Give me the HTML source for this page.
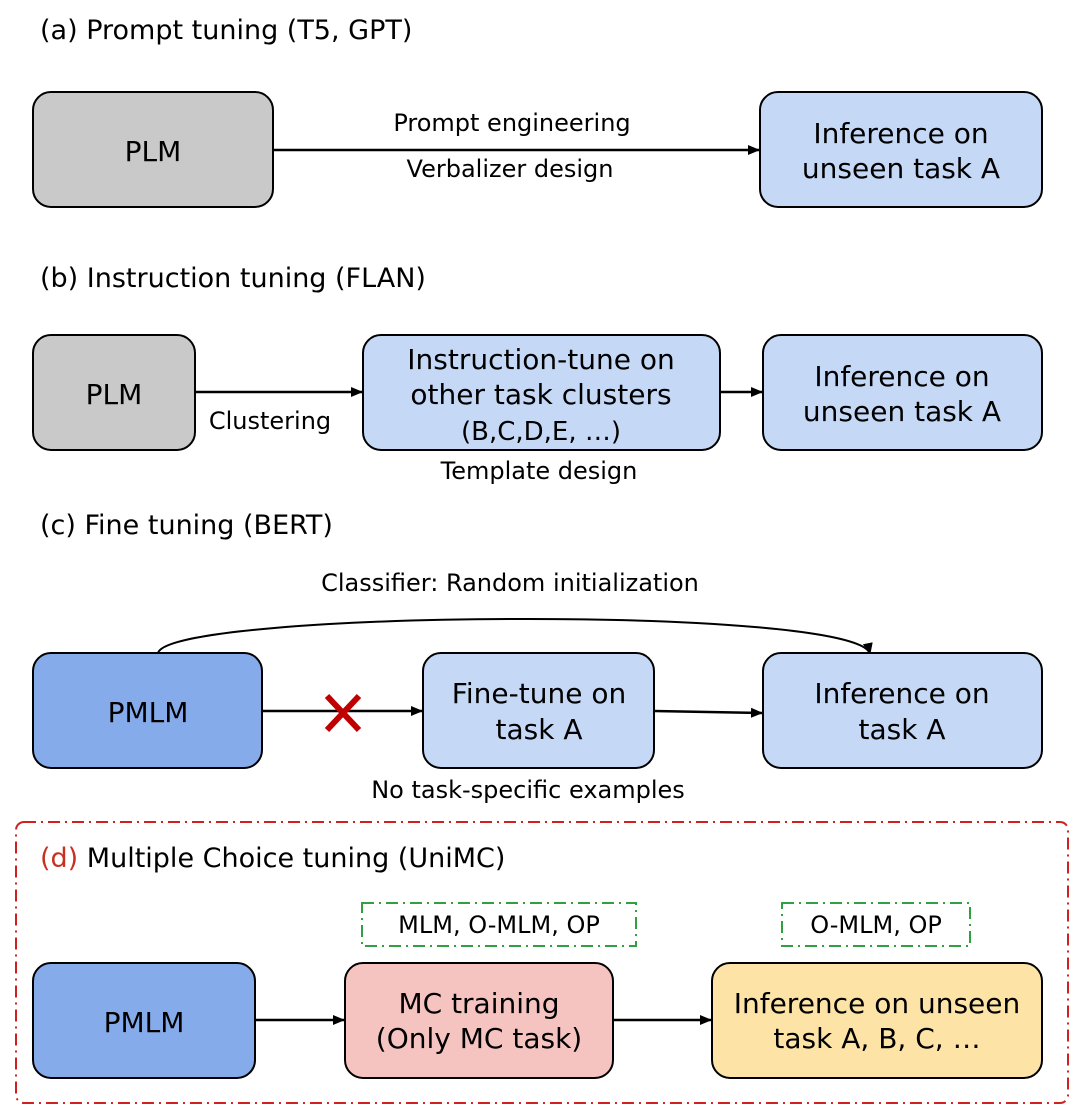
<!DOCTYPE html>
<html><head><meta charset="utf-8"><style>
html,body{margin:0;padding:0;background:#fff;}
svg{display:block;}
text{font-family:"DejaVu Sans","Noto Sans CJK SC",sans-serif;fill:#000;}
.t{font-size:27px;}
.b{font-size:28px;text-anchor:middle;}
.l{font-size:24px;text-anchor:middle;}
.box{stroke:#000;stroke-width:2;}
</style></head><body>
<svg width="1080" height="1117" viewBox="0 0 1080 1117" xmlns="http://www.w3.org/2000/svg">
<defs><marker id="ah" markerWidth="12" markerHeight="12" refX="11" refY="6" orient="auto" markerUnits="userSpaceOnUse"><path d="M0,1 L12,6 L0,11 z" fill="#000"/></marker></defs>

<text class="t" x="40" y="39">(a) Prompt tuning (T5, GPT)</text>
<rect class="box" x="33" y="92" width="240" height="115" rx="18" fill="#c9c9c9"/>
<text class="b" x="153" y="161">PLM</text>
<line x1="273" y1="150" x2="759" y2="150" stroke="#000" stroke-width="2.5" marker-end="url(#ah)"/>
<text class="l" x="512" y="131">Prompt engineering</text>
<text class="l" x="510" y="177">Verbalizer design</text>
<rect class="box" x="760" y="92" width="282" height="115" rx="18" fill="#c5d9f7"/>
<text class="b" x="901" y="143">Inference on</text>
<text class="b" x="901" y="178">unseen task A</text>

<text class="t" x="40" y="287">(b) Instruction tuning (FLAN)</text>
<rect class="box" x="33" y="335" width="162" height="115" rx="18" fill="#c9c9c9"/>
<text class="b" x="114" y="404">PLM</text>
<line x1="195" y1="392" x2="362" y2="392" stroke="#000" stroke-width="2.5" marker-end="url(#ah)"/>
<text class="l" x="270" y="429">Clustering</text>
<rect class="box" x="363" y="335" width="357" height="115" rx="18" fill="#c5d9f7"/>
<text class="b" x="541" y="369">Instruction-tune on</text>
<text class="b" x="541" y="404">other task clusters</text>
<text class="b" x="541" y="440" style="font-size:26px">(B,C,D,E, …)</text>
<text class="l" x="539" y="479">Template design</text>
<line x1="720" y1="392" x2="762" y2="392" stroke="#000" stroke-width="2.5" marker-end="url(#ah)"/>
<rect class="box" x="763" y="335" width="279" height="115" rx="18" fill="#c5d9f7"/>
<text class="b" x="902" y="386">Inference on</text>
<text class="b" x="902" y="421">unseen task A</text>

<text class="t" x="40" y="534">(c) Fine tuning (BERT)</text>
<text class="l" x="510" y="591">Classifier: Random initialization</text>
<path d="M158,653 C170,610 860,605 870,654" fill="none" stroke="#000" stroke-width="2" marker-end="url(#ah)"/>
<rect class="box" x="33" y="653" width="229" height="115" rx="18" fill="#86abeb"/>
<text class="b" x="148" y="722">PMLM</text>
<line x1="262" y1="711" x2="422" y2="711" stroke="#000" stroke-width="2.5" marker-end="url(#ah)"/>
<path d="M327,696 L359,730 M359,696 L327,730" stroke="#c00000" stroke-width="6"/>
<rect class="box" x="423" y="653" width="231" height="115" rx="18" fill="#c5d9f7"/>
<text class="b" x="539" y="703">Fine-tune on</text>
<text class="b" x="539" y="739">task A</text>
<line x1="654" y1="711" x2="762" y2="713" stroke="#000" stroke-width="2.5" marker-end="url(#ah)"/>
<rect class="box" x="763" y="653" width="279" height="115" rx="18" fill="#c5d9f7"/>
<text class="b" x="902" y="703">Inference on</text>
<text class="b" x="902" y="739">task A</text>
<text class="l" x="528" y="798">No task-specific examples</text>

<rect x="16" y="822" width="1052" height="281" rx="8" fill="none" stroke="#d02020" stroke-width="2" stroke-dasharray="12,5,2,5"/>
<text class="t" x="40" y="867"><tspan style="fill:#c83020">(d)</tspan> Multiple Choice tuning (UniMC)</text>
<rect x="362" y="903" width="274" height="43" fill="none" stroke="#30a040" stroke-width="2" stroke-dasharray="12,5,2,5"/>
<text class="l" x="499" y="933">MLM, O-MLM, OP</text>
<rect x="782" y="903" width="188" height="43" fill="none" stroke="#30a040" stroke-width="2" stroke-dasharray="12,5,2,5"/>
<text class="l" x="876" y="933">O-MLM, OP</text>
<rect class="box" x="33" y="963" width="222" height="115" rx="18" fill="#86abeb"/>
<text class="b" x="144" y="1032">PMLM</text>
<line x1="255" y1="1020" x2="344" y2="1020" stroke="#000" stroke-width="2.5" marker-end="url(#ah)"/>
<rect class="box" x="345" y="963" width="268" height="115" rx="18" fill="#f5c4c0"/>
<text class="b" x="479" y="1013">MC training</text>
<text class="b" x="479" y="1048">(Only MC task)</text>
<line x1="613" y1="1020" x2="711" y2="1020" stroke="#000" stroke-width="2.5" marker-end="url(#ah)"/>
<rect class="box" x="712" y="963" width="330" height="115" rx="18" fill="#fde4a6"/>
<text class="b" x="877" y="1013">Inference on unseen</text>
<text class="b" x="877" y="1048">task A, B, C, …</text>
</svg>
</body></html>
